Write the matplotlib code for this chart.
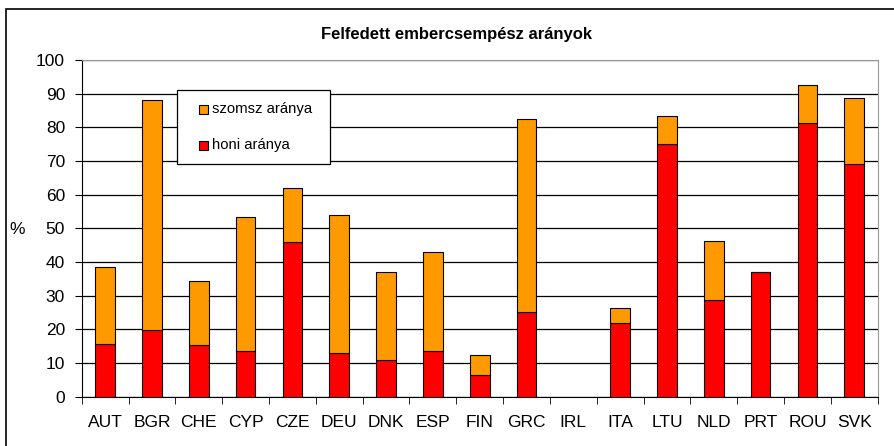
import numpy as np
import matplotlib.pyplot as plt
from matplotlib.patches import Rectangle

plt.rcParams['font.family'] = ['Liberation Sans', 'DejaVu Sans']

countries = ['AUT', 'BGR', 'CHE', 'CYP', 'CZE', 'DEU', 'DNK', 'ESP', 'FIN',
             'GRC', 'IRL', 'ITA', 'LTU', 'NLD', 'PRT', 'ROU', 'SVK']
honi = [15.6, 19.8, 15.3, 13.5, 45.9, 13.1, 10.9, 13.7, 6.4,
        25.2, 0.0, 22.0, 75.0, 28.7, 37.0, 81.4, 69.0]
total = [38.6, 88.0, 34.4, 53.4, 62.0, 54.0, 36.9, 43.0, 12.4,
         82.5, 0.0, 26.4, 83.4, 46.3, 37.0, 92.5, 88.7]
szomsz = [t - h for t, h in zip(total, honi)]

W, H = 894, 446
fig = plt.figure(figsize=(W / 100, H / 100), dpi=100)


def px(x0, y0):
    # pixel position (from top-left) -> figure fraction
    return x0 / W, 1 - y0 / H


# outer chart frame (runs off the right and bottom edge)
fig.patches.append(Rectangle((6 / W, -0.1), 1.0, 1 - 9 / H + 0.1,
                             transform=fig.transFigure, fill=False,
                             edgecolor='black', lw=1.2))
ax = fig.add_axes([81.7 / W, 1 - 396.7 / H, 796 / W, 336.7 / H])

x = np.arange(len(countries))
w = 0.42
red_bars = ax.bar(x, honi, w, color='#FF0000', edgecolor='black', lw=0.8,
                  zorder=3)
top_bars = ax.bar(x, szomsz, w, bottom=honi, color='#FF9900',
                  edgecolor='black', lw=0.8, zorder=3)
# empty bars (IRL) leave no outline
for bars in (red_bars, top_bars):
    for b, t in zip(bars, total):
        if t == 0:
            b.set_linewidth(0)

ax.set_xlim(-0.5, len(countries) - 0.5)
ax.set_ylim(0, 100)
ax.set_yticks(range(0, 101, 10))
ax.set_xticks(x)
ax.set_xticklabels(countries)
ax.set_xticks(np.arange(-0.5, len(countries), 1), minor=True)
ax.tick_params(axis='x', which='major', length=0, pad=13, labelsize=12.5)
ax.tick_params(axis='x', which='minor', length=5, direction='out')
ax.tick_params(axis='y', length=5, direction='out', pad=7, labelsize=12.5)
ax.grid(axis='y', color='black', lw=0.9, zorder=0)

for s in ['top', 'right']:
    ax.spines[s].set_color('#999999')
ax.spines['left'].set_color('black')
ax.spines['bottom'].set_color('black')

fig.text(*px(17.5, 229), '%', fontsize=12.5, ha='center', va='center')
fig.text(*px(456, 34), 'Felfedett embercsempész arányok',
         fontsize=12, fontweight='bold', ha='center', va='center')

# legend box drawn by hand to match the original placement
lx0, ly0 = px(177, 164)
fig.patches.append(Rectangle((lx0, ly0), 153 / W, 74 / H,
                             transform=fig.transFigure, facecolor='white',
                             edgecolor='black', lw=0.9, zorder=5))
leg_labels = ['szomsz aránya', 'honi aránya']
leg_colors = ['#FF9900', '#FF0000']
for i, (lab, col) in enumerate(zip(leg_labels, leg_colors)):
    cy = 109 + 36 * i
    mx, my = px(199, cy + 4.5)
    fig.patches.append(Rectangle((mx, my), 8.5 / W, 8.5 / H,
                                 transform=fig.transFigure, facecolor=col,
                                 edgecolor='black', lw=0.8, zorder=6))
    fig.text(*px(212.5, cy), lab, fontsize=10.7, ha='left', va='center',
             zorder=6)

fig.savefig('out.png', dpi=100)
